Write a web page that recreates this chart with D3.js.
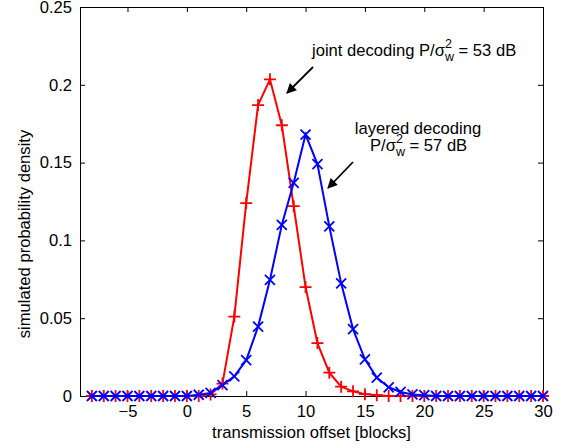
<!DOCTYPE html>
<html>
<head>
<meta charset="utf-8">
<script src="https://cdn.jsdelivr.net/npm/d3@7"></script>
<style>
body { margin:0; background:#fff; }
svg text { font-family:"Liberation Sans", Arial, sans-serif; fill:#000; }
</style>
</head>
<body>
<script>
// transmission offset in blocks
var offsets = d3.range(-8, 31);

// joint decoding P/sigma^2 = 53 dB (red, plus markers)
var joint = [0,0,0,0,0,0,0,0,0,0,
	0.001,0.008,0.051,0.124,0.187,0.2035,0.174,0.122,0.070,0.034,
	0.015,0.006,0.003,0.0012,0.0005,0,0,0,0,0,
	0,0,0,0,0,0,0,0,0];

// layered decoding P/sigma^2 = 57 dB (blue, x markers)
var layered = [0,0,0,0,0,0,0,0,0,0.0008,
	0.002,0.007,0.0126,0.023,0.0446,0.0746,0.110,0.137,0.168,0.149,
	0.109,0.0724,0.043,0.0236,0.0118,0.0056,0.0026,0.001,0.0005,0,
	0,0,0,0,0,0,0,0,0];

var xTicks = [-5, 0, 5, 10, 15, 20, 25, 30];
var yTicks = [0, 0.05, 0.1, 0.15, 0.2, 0.25];
var yTickLabels = ["0", "0.05", "0.1", "0.15", "0.2", "0.25"];

var w = 565, h = 448;
// plot box (window.top is reserved, hence the names)
var pLeft = 80, pRight = 543, pTop = 7, pBottom = 396;
var fs = "16.6px";

var svg = d3.select("body")
	.append("svg")
	.attr("width", w)
	.attr("height", h);

var x = d3.scaleLinear().domain([-9, 30]).range([pLeft, pRight]);
var y = d3.scaleLinear().domain([0, 0.25]).range([pBottom, pTop]);

// axes, matlab style: ticks point inwards, box all round
svg.append("g")
	.attr("transform", "translate(0," + pBottom + ")")
	.call(d3.axisBottom(x).tickValues(xTicks).tickSize(-5).tickSizeOuter(0).tickPadding(9));

svg.append("g")
	.attr("transform", "translate(0," + pTop + ")")
	.call(d3.axisTop(x).tickValues(xTicks).tickSize(-5).tickSizeOuter(0).tickFormat(""));

svg.append("g")
	.attr("transform", "translate(" + pLeft + ",0)")
	.call(d3.axisLeft(y).tickValues(yTicks).tickSize(-5).tickSizeOuter(0).tickPadding(8)
		.tickFormat(function(d, i){ return yTickLabels[i]; }));

svg.append("g")
	.attr("transform", "translate(" + pRight + ",0)")
	.call(d3.axisRight(y).tickValues(yTicks).tickSize(-5).tickSizeOuter(0).tickFormat(""));

svg.selectAll(".domain").attr("stroke", "#000").attr("stroke-width", 1);
svg.selectAll(".tick line").attr("stroke", "#000");
svg.selectAll(".tick text").style("font-size", fs).attr("fill", "#000");

// axis labels
svg.append("text")
	.attr("x", (pLeft + pRight) / 2)
	.attr("y", 438)
	.attr("text-anchor", "middle")
	.style("font-size", fs)
	.text("transmission offset [blocks]");

svg.append("text")
	.attr("transform", "translate(30,234) rotate(-90)")
	.attr("text-anchor", "middle")
	.style("font-size", fs)
	.text("simulated probability density");

// curves
var series = [
	{ values: joint, color: "#ff0000", marker: "M-6,0H6M0,-6V6" },
	{ values: layered, color: "#0000ff", marker: "M-5,-5L5,5M-5,5L5,-5" }
];

var line = d3.line()
	.x(function(d){ return x(d[0]); })
	.y(function(d){ return y(d[1]); });

series.forEach(function(s){
	var pts = offsets.map(function(o, i){ return [o, s.values[i]]; });

	svg.append("path")
		.datum(pts)
		.attr("d", line)
		.attr("fill", "none")
		.attr("stroke", s.color)
		.attr("stroke-width", 2);

	svg.selectAll(null)
		.data(pts)
		.enter()
		.append("path")
		.attr("d", s.marker)
		.attr("transform", function(d){ return "translate(" + x(d[0]) + "," + y(d[1]) + ")"; })
		.attr("fill", "none")
		.attr("stroke", s.color)
		.attr("stroke-width", 1.8);
});

// annotations
function snr(sel, db){
	sel.append("tspan").text("P/\u03c3");
	sel.append("tspan").attr("dy", -8).style("font-size", "12.5px").text("2");
	sel.append("tspan").attr("dx", -7).attr("dy", 13).style("font-size", "12.5px").text("w");
	sel.append("tspan").attr("dy", -5).text(" = " + db + " dB");
}

var t1 = svg.append("text")
	.attr("x", 312)
	.attr("y", 56)
	.style("font-size", fs);
t1.append("tspan").text("joint decoding ");
snr(t1, 53);

svg.append("text")
	.attr("x", 418)
	.attr("y", 134)
	.attr("text-anchor", "middle")
	.style("font-size", fs)
	.text("layered decoding");

var t2 = svg.append("text")
	.attr("x", 370)
	.attr("y", 151)
	.style("font-size", fs);
snr(t2, 57);

var arrows = [
	[313, 67, 287, 93],
	[353, 162, 328, 188]
];

svg.append("defs").append("marker")
	.attr("id", "head")
	.attr("viewBox", "0 0 10 10")
	.attr("refX", 9)
	.attr("refY", 5)
	.attr("markerWidth", 12)
	.attr("markerHeight", 10)
	.attr("markerUnits", "userSpaceOnUse")
	.attr("orient", "auto")
	.append("path")
	.attr("d", "M0,0L10,5L0,10z")
	.attr("fill", "#000");

svg.selectAll(null)
	.data(arrows)
	.enter()
	.append("line")
	.attr("x1", function(d){ return d[0]; })
	.attr("y1", function(d){ return d[1]; })
	.attr("x2", function(d){ return d[2]; })
	.attr("y2", function(d){ return d[3]; })
	.attr("stroke", "#000")
	.attr("stroke-width", 1.8)
	.attr("marker-end", "url(#head)");
</script>
</body>
</html>
